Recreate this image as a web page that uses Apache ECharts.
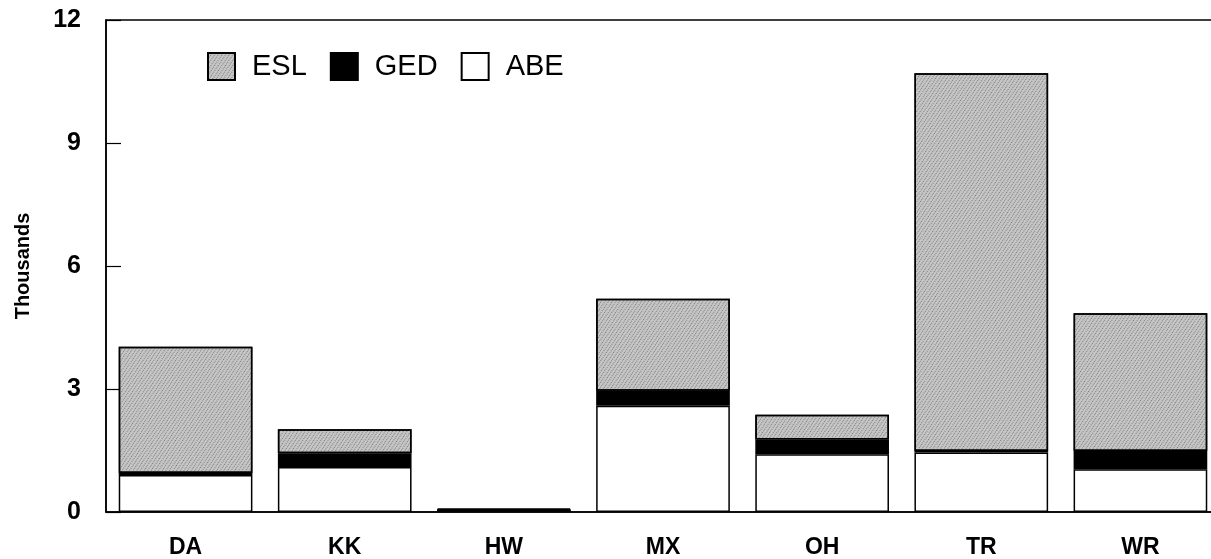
<!DOCTYPE html>
<html>
<head>
<meta charset="utf-8">
<script src="https://cdn.jsdelivr.net/npm/echarts@6/dist/echarts.min.js"></script>
<style>
html,body{margin:0;padding:0;background:#fff;}
#chart{width:1211px;height:559px;}
</style>
</head>
<body>
<div id="chart"></div>
<script>
const categories = ['DA', 'KK', 'HW', 'MX', 'OH', 'TR', 'WR'];
const abeValues = [0.90, 1.10, 0.05, 2.59, 1.41, 1.45, 1.04];
const gedValues = [0.05, 0.33, 0.00, 0.37, 0.36, 0.04, 0.45];
const eslValues = [3.08, 0.59, 0.03, 2.24, 0.60, 9.21, 3.36];
const yTicks = [0, 3, 6, 9, 12];

const FONT = '"Liberation Sans", Arial, sans-serif';
const chart = echarts.init(document.getElementById('chart'), null, {renderer: 'canvas'});

const border = {borderColor: '#000', borderWidth: 1.5};
const eslDecal = {
  symbol: 'rect',
  symbolSize: 1,
  dashArrayX: [1, 2],
  dashArrayY: [1, 1],
  rotation: 0.6,
  color: 'rgba(60,60,60,0.55)'
};

chart.setOption({
  animation: false,
  backgroundColor: '#fff',
  grid: {
    left: 106, top: 20, width: 1114, bottom: 47,
    outerBoundsMode: 'none',
    containLabel: false,
    show: true, borderColor: '#000', borderWidth: 1.5, backgroundColor: 'transparent'
  },
  legend: {
    left: 202, top: 47,
    itemWidth: 27, itemHeight: 27, itemGap: 23,
    icon: 'rect',
    textStyle: {fontFamily: FONT, fontSize: 29, color: '#000', padding: [0, 0, 0, 12]},
    data: ['ESL', 'GED', 'ABE']
  },
  xAxis: {
    type: 'category',
    data: categories,
    axisLine: {lineStyle: {color: '#000', width: 1.5}},
    axisTick: {inside: true, length: 15, alignWithLabel: true, lineStyle: {color: '#000', width: 1.2}},
    axisLabel: {fontFamily: FONT, fontSize: 23, fontWeight: 'bold', color: '#000', margin: 24}
  },
  yAxis: {
    type: 'value',
    min: yTicks[0], max: yTicks[yTicks.length - 1], interval: 3,
    name: 'Thousands',
    nameLocation: 'middle',
    nameGap: 73,
    nameTextStyle: {fontFamily: FONT, fontSize: 20, fontWeight: 'bold', color: '#000'},
    axisLine: {show: true, lineStyle: {color: '#000', width: 1.5}},
    axisTick: {show: true, inside: true, length: 15, lineStyle: {color: '#000', width: 1.2}},
    splitLine: {show: false},
    axisLabel: {fontFamily: FONT, fontSize: 25, fontWeight: 'bold', color: '#000', margin: 25}
  },
  series: [
    {
      name: 'ABE', type: 'bar', stack: 'total', barWidth: '84%',
      data: abeValues,
      itemStyle: Object.assign({color: '#fff'}, border)
    },
    {
      name: 'GED', type: 'bar', stack: 'total', barWidth: '84%',
      data: gedValues,
      itemStyle: Object.assign({color: '#000'}, border)
    },
    {
      name: 'ESL', type: 'bar', stack: 'total', barWidth: '84%',
      data: eslValues,
      itemStyle: Object.assign({color: '#c6c6c6', decal: eslDecal}, border)
    }
  ]
});
</script>
</body>
</html>
